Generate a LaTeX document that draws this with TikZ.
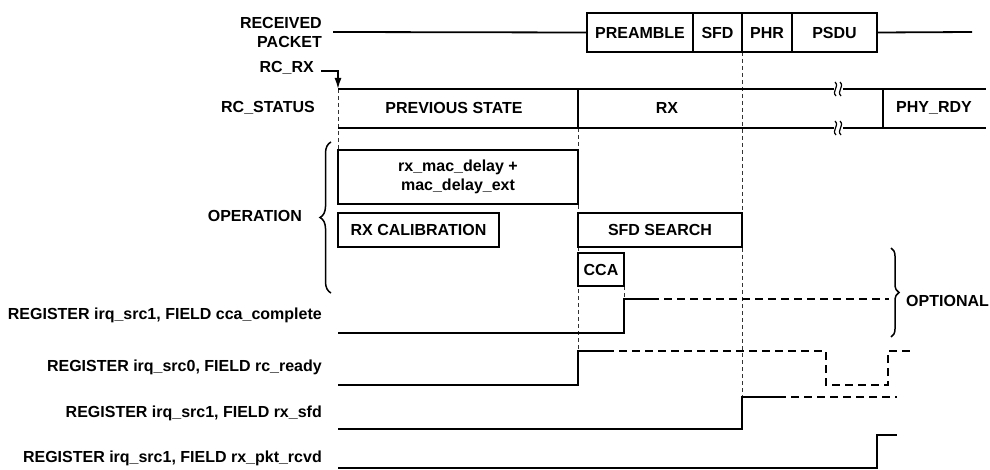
\documentclass[tikz,border=0pt]{standalone}
\usepackage{fontspec}
\setmainfont{Liberation Sans}
\usetikzlibrary{arrows.meta,decorations.pathreplacing}
\begin{document}
\begin{tikzpicture}[x=1pt,y=-1pt,
  txt/.style={font=\fontsize{16}{19}\selectfont\bfseries, inner sep=0pt},
  sig/.style={line width=1.8pt},
  sigdash/.style={line width=1.8pt, dash pattern=on 8pt off 5pt},
  guide/.style={line width=1pt, dash pattern=on 4pt off 3pt, black!80},
  cell/.style={draw, line width=1.8pt, inner sep=0pt, font=\fontsize{16}{19}\selectfont\bfseries, align=center},
  squig/.style={line width=1.2pt}
]
\useasboundingbox (0,0) rectangle (990,470);

% guide lines (dashed)
\draw[guide] (338,89) -- (338,150);
\draw[guide] (578,128) -- (578,351);
\draw[guide] (624,286) -- (624,299);
\draw[guide] (742,52) -- (742,397);

% labels
\node[txt, anchor=east, align=right] (lrp) at (322,32) {RECEIVED\\PACKET};
\node[txt, anchor=east] (lrcrx) at (314,68) {RC\_RX};
\node[txt, anchor=east] (lrcs) at (315,108) {RC\_STATUS};
\node[txt, anchor=east] (lop) at (302,216) {OPERATION};
\node[txt, anchor=east] (lcca) at (322,315) {REGISTER irq\_src1, FIELD cca\_complete};
\node[txt, anchor=east] (lrdy) at (322,367) {REGISTER irq\_src0, FIELD rc\_ready};
\node[txt, anchor=east] (lsfd) at (322,413) {REGISTER irq\_src1, FIELD rx\_sfd};
\node[txt, anchor=east] (lpkt) at (322,458) {REGISTER irq\_src1, FIELD rx\_pkt\_rcvd};
\node[txt, anchor=west] (lopt) at (906,301) {OPTIONAL};

% received packet
\node[cell, minimum width=106pt, minimum height=39pt] (pre) at (640,32.5) {PREAMBLE};
\node[cell, minimum width=49pt, minimum height=39pt] (sfd) at (717.5,32.5) {SFD};
\node[cell, minimum width=50pt, minimum height=39pt] (phr) at (767,32.5) {PHR};
\node[cell, minimum width=85pt, minimum height=39pt] (psdu) at (834.5,32.5) {PSDU};
\coordinate (pktL) at (333,32);
\coordinate (pktR) at (972,32);
\draw[sig] (pktL) -- (pre.west);
\draw[sig] (psdu.east) -- (pktR);

% RC_RX arrow
\coordinate (rxa) at (321,71);
\coordinate (rxb) at (338,71);
\coordinate (rxc) at (338,89);
\draw[line width=1.6pt, -{Latex[length=11pt,width=7pt]}] (rxa) -- (rxb) -- (rxc);

% RC_STATUS
\draw[sig] (338,89) -- (986,89);
\draw[sig] (338,128) -- (986,128);
\draw[sig] (578,89) -- (578,128);
\draw[sig] (883,89) -- (883,128);
\node[txt] (sprev) at (454,108) {PREVIOUS STATE};
\node[txt] (srx) at (667,108) {RX};
\node[txt] (sphy) at (934,108) {PHY\_RDY};
\foreach \yy in {89,128}{
  \fill[white] (834,\yy-3) rectangle (843,\yy+3);
  \draw[squig] (835,\yy-7) .. controls (840,\yy-2) and (831,\yy+2) .. (836,\yy+7);
  \draw[squig] (840,\yy-7) .. controls (845,\yy-2) and (836,\yy+2) .. (841,\yy+7);
}

% operation boxes
\node[cell, minimum width=240pt, minimum height=54pt] (mac) at (458,177) {rx\_mac\_delay +\\mac\_delay\_ext};
\node[cell, minimum width=161pt, minimum height=34pt] (cal) at (418.5,230) {RX CALIBRATION};
\node[cell, minimum width=164pt, minimum height=34pt] (srch) at (660,230) {SFD SEARCH};
\node[cell, minimum width=46pt, minimum height=33pt] (cca) at (601,269.5) {CCA};

% braces
\draw[line width=1.5pt, decorate, decoration={brace, amplitude=11pt}] (331,293) -- (331,142);
\draw[line width=1.5pt, decorate, decoration={brace, amplitude=8pt}] (891,248) -- (891,337);

% signals
\draw[sig] (338,333) -- (624,333) -- (624,299) -- (651,299);
\draw[sigdash] (651,299) -- (889,299);
\draw[sig] (338,385) -- (578,385) -- (578,351) -- (606,351);
\draw[sigdash] (606,351) -- (826,351) -- (826,385) -- (888,385) -- (888,351) -- (913,351);
\draw[sig] (338,429) -- (742,429) -- (742,397) -- (778,397);
\draw[sigdash] (778,397) -- (897,397);
\draw[sig] (338,468) -- (877,468) -- (877,435) -- (897,435);
\end{tikzpicture}
\end{document}
